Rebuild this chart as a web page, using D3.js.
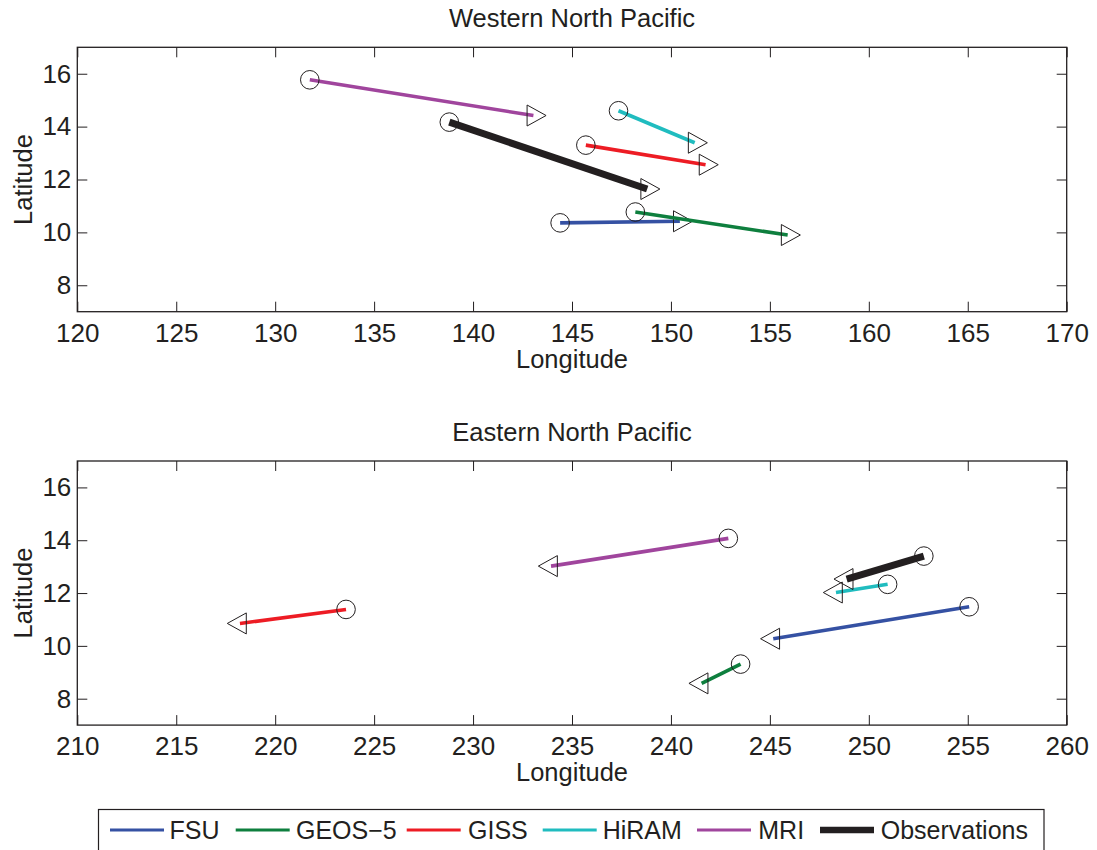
<!DOCTYPE html>
<html>
<head>
<meta charset="utf-8">
<script src="https://cdn.jsdelivr.net/npm/d3@7"></script>
<style>
  html, body { margin: 0; padding: 0; background: #fff; }
  svg { display: block; font-family: "Liberation Sans", Arial, Helvetica, sans-serif; }
</style>
</head>
<body>
<svg id="chart" width="1097" height="850"></svg>
<script>
// Genesis-to-decay displacement per model and observations
const models = ["FSU", "GEOS-5", "GISS", "HiRAM", "MRI", "Observations"];
const modelColors = ["#3551a3", "#0e7f3e", "#ed1c24", "#20bcbf", "#a0459d", "#231f20"];
const modelWidths = [3.6, 3.6, 3.6, 3.6, 3.6, 7];

// Western North Pacific: start (circle) and end (triangle) positions
const wnpStartLon = [144.4, 148.2, 145.7, 147.35, 131.75, 138.8];
const wnpStartLat = [10.36, 10.77, 13.30, 14.60, 15.77, 14.17];
const wnpEndLon   = [150.45, 155.9, 151.75, 151.2, 143.05, 148.8];
const wnpEndLat   = [10.42, 9.90, 12.56, 13.39, 14.42, 11.64];

// Eastern North Pacific
const enpStartLon = [255.07, 243.52, 223.58, 250.95, 242.9, 252.78];
const enpStartLat = [11.48, 9.31, 11.38, 12.33, 14.07, 13.40];
const enpEndLon   = [245.17, 241.55, 218.22, 248.34, 233.94, 248.88];
const enpEndLat   = [10.27, 8.58, 10.85, 12.02, 13.02, 12.53];

// Axis extents and ticks
const wnpLonDomain = [120, 170];
const enpLonDomain = [210, 260];
const latDomain = [7, 17];
const wnpLonTicks = [120, 125, 130, 135, 140, 145, 150, 155, 160, 165, 170];
const enpLonTicks = [210, 215, 220, 225, 230, 235, 240, 245, 250, 255, 260];
const latTicks = [8, 10, 12, 14, 16];

const textColor = "#231f20";
const svg = d3.select("#chart");

const left = 77.3, right = 1066.7;

function panel(opts) {
  const { top, bottom, lonDomain, lonTicks, title, sLon, sLat, eLon, eLat } = opts;
  const x = d3.scaleLinear().domain(lonDomain).range([left, right]);
  const y = d3.scaleLinear().domain(latDomain).range([bottom, top]);
  const g = svg.append("g");

  // Box and inward ticks on all four sides
  const tickLen = 10;
  g.append("g").attr("transform", `translate(0,${bottom})`)
    .call(d3.axisBottom(x).tickValues(lonTicks).tickSizeInner(-tickLen).tickSizeOuter(0).tickPadding(11.5).tickFormat(d3.format("d")))
    .call(a => a.selectAll("text").attr("font-size", 26).attr("fill", textColor).attr("dy", "0.71em"));
  g.append("g").attr("transform", `translate(0,${top})`)
    .call(d3.axisTop(x).tickValues(lonTicks).tickSizeInner(-tickLen).tickSizeOuter(0).tickFormat(""));
  g.append("g").attr("transform", `translate(${left},0)`)
    .call(d3.axisLeft(y).tickValues(latTicks).tickSizeInner(-tickLen).tickSizeOuter(0).tickPadding(6).tickFormat(d3.format("d")))
    .call(a => a.selectAll("text").attr("font-size", 26).attr("fill", textColor));
  g.append("g").attr("transform", `translate(${right},0)`)
    .call(d3.axisRight(y).tickValues(latTicks).tickSizeInner(-tickLen).tickSizeOuter(0).tickFormat(""));
  g.selectAll(".domain").remove();
  g.selectAll(".tick line").attr("stroke", textColor).attr("stroke-width", 1);
  g.selectAll("text").attr("font-family", null);
  g.append("rect").attr("x", left).attr("y", top).attr("width", right - left).attr("height", bottom - top)
    .attr("fill", "none").attr("stroke", textColor).attr("stroke-width", 1.3);

  // Labels
  g.append("text").attr("x", (left + right) / 2).attr("y", top - 20)
    .attr("text-anchor", "middle").attr("font-size", 25.5).attr("fill", textColor).text(title);
  g.append("text").attr("x", (left + right) / 2).attr("y", bottom + 56)
    .attr("text-anchor", "middle").attr("font-size", 25.5).attr("fill", textColor).text("Longitude");
  g.append("text").attr("transform", `translate(31.5,${(top + bottom) / 2}) rotate(-90)`)
    .attr("text-anchor", "middle").attr("font-size", 25.5).attr("fill", textColor).text("Latitude");

  const data = models.map((m, i) => ({
    m, color: modelColors[i], w: modelWidths[i],
    sx: x(sLon[i]), sy: y(sLat[i]), ex: x(eLon[i]), ey: y(eLat[i]),
    dir: eLon[i] >= sLon[i] ? 1 : -1
  }));

  const marks = g.append("g");
  data.forEach(d => {
    marks.append("line")
      .attr("x1", d.sx).attr("y1", d.sy).attr("x2", d.ex).attr("y2", d.ey)
      .attr("stroke", d.color).attr("stroke-width", d.w);
    marks.append("circle").attr("cx", d.sx).attr("cy", d.sy).attr("r", 9.3)
      .attr("fill", "none").attr("stroke", textColor).attr("stroke-width", 1);
    // Triangle marker with its centroid on the end point, pointing along the track
    const w = 19, h = 21, s = d.dir;
    const pts = [[-s * w / 3, -h / 2], [-s * w / 3, h / 2], [s * 2 * w / 3, 0]]
      .map(p => [d.ex + p[0], d.ey + p[1]]);
    marks.append("path").attr("d", d3.line()(pts) + "Z")
      .attr("fill", "none").attr("stroke", textColor).attr("stroke-width", 1);
  });
}

panel({ top: 47.3, bottom: 311.7, lonDomain: wnpLonDomain, lonTicks: wnpLonTicks,
        title: "Western North Pacific", sLon: wnpStartLon, sLat: wnpStartLat, eLon: wnpEndLon, eLat: wnpEndLat });
panel({ top: 461, bottom: 725.1, lonDomain: enpLonDomain, lonTicks: enpLonTicks,
        title: "Eastern North Pacific", sLon: enpStartLon, sLat: enpStartLat, eLon: enpEndLon, eLat: enpEndLat });

// Legend
const legendItems = [
  { x1: 110, text: 169.5 }, { x1: 235.7, text: 296 }, { x1: 406.7, text: 468 },
  { x1: 542.7, text: 602.7 }, { x1: 697, text: 758.3 }, { x1: 820, text: 880.7 }
];
const lg = svg.append("g");
lg.append("rect").attr("x", 98.5).attr("y", 809.5).attr("width", 945.5).attr("height", 60)
  .attr("fill", "#fff").attr("stroke", textColor).attr("stroke-width", 1.2);
models.forEach((m, i) => {
  const it = legendItems[i];
  lg.append("line").attr("x1", it.x1).attr("x2", it.x1 + 54).attr("y1", 830).attr("y2", 830)
    .attr("stroke", modelColors[i]).attr("stroke-width", modelWidths[i] === 7 ? 6.5 : 3.2);
  lg.append("text").attr("x", it.text).attr("y", 839).attr("font-size", 25)
    .attr("fill", textColor).text(m === "GEOS-5" ? "GEOS\u22125" : m);
});
</script>
</body>
</html>
